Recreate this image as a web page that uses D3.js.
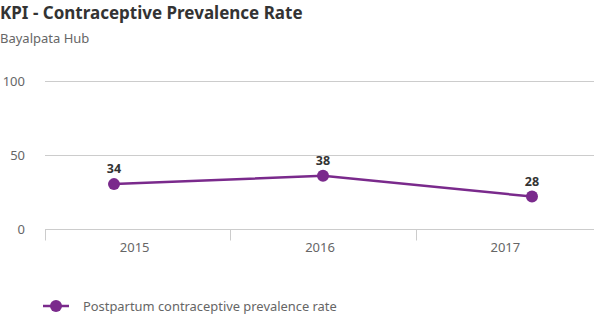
<!DOCTYPE html>
<html>
<head>
<meta charset="utf-8">
<title>KPI - Contraceptive Prevalence Rate</title>
<script src="https://cdnjs.cloudflare.com/ajax/libs/d3/7.8.5/d3.min.js"></script>
<style>
    body { margin: 0; background: #fff; font-family: "Noto Sans", "Open Sans", sans-serif; }
    #chart { width: 594px; height: 325px; }
</style>
</head>
<body>
<div id="chart"></div>
<script>
    // chart data
    const years = ["2015", "2016", "2017"];
    const rateValues = [34, 38, 28];
    const yTicks = [0, 50, 100];
    const seriesName = "Postpartum contraceptive prevalence rate";
    const title = "KPI - Contraceptive Prevalence Rate";
    const subtitle = "Bayalpata Hub";

    const width = 594, height = 325;
    const purple = "#7a2a8c";

    const svg = d3.select("#chart").append("svg")
        .attr("width", width)
        .attr("height", height);

    svg.append("text")
        .attr("x", 0).attr("y", 19)
        .attr("font-size", 17).attr("font-weight", 700)
        .attr("fill", "#333")
        .text(title);

    svg.append("text")
        .attr("x", 0).attr("y", 43)
        .attr("font-size", 13)
        .attr("fill", "#666")
        .text(subtitle);

    // axis scales
    const y = d3.scaleLinear().domain([0, 100]).range([229.5, 81.5]);
    const xBand = d3.scaleBand().domain(years).range([45, 601]);
    // series is drawn on its own plotting scale (as in the source chart)
    const ySeries = d3.scaleLinear().domain([0, 100]).range([254.5, 47.5]);
    const xSeries = d3.scalePoint().domain(years).range([114, 532]);

    // gridlines
    svg.append("g").selectAll("line")
        .data(yTicks.filter(d => d > 0))
        .join("line")
        .attr("x1", 45).attr("x2", width)
        .attr("y1", d => y(d)).attr("y2", d => y(d))
        .attr("stroke", "#ccc").attr("stroke-width", 1);

    // y labels
    svg.append("g").selectAll("text")
        .data(yTicks)
        .join("text")
        .attr("x", 25).attr("y", d => y(d) + 4.5)
        .attr("text-anchor", "end")
        .attr("font-size", 13)
        .attr("fill", "#666")
        .text(d => d);

    // x axis
    const xAxis = svg.append("g");
    xAxis.append("line")
        .attr("x1", 45).attr("x2", width)
        .attr("y1", y(0)).attr("y2", y(0))
        .attr("stroke", "#ccc");
    xAxis.selectAll("line.tick")
        .data(years)
        .join("line")
        .attr("class", "tick")
        .attr("x1", d => Math.round(xBand(d)) + 0.5)
        .attr("x2", d => Math.round(xBand(d)) + 0.5)
        .attr("y1", y(0)).attr("y2", y(0) + 11)
        .attr("stroke", "#ccc");
    xAxis.selectAll("text")
        .data(years)
        .join("text")
        .attr("x", d => xBand(d) + xBand.bandwidth() / 2 - 3)
        .attr("y", 252)
        .attr("text-anchor", "middle")
        .attr("font-size", 13)
        .attr("fill", "#666")
        .text(d => d);

    // series
    const pts = years.map((yr, i) => ({ year: yr, value: rateValues[i] }));
    const line = d3.line()
        .x(d => xSeries(d.year))
        .y(d => ySeries(d.value));

    svg.append("path")
        .datum(pts)
        .attr("d", line)
        .attr("fill", "none")
        .attr("stroke", purple)
        .attr("stroke-width", 2.5);

    svg.append("g").selectAll("circle")
        .data(pts)
        .join("circle")
        .attr("cx", d => xSeries(d.year))
        .attr("cy", d => ySeries(d.value))
        .attr("r", 6)
        .attr("fill", purple);

    svg.append("g").selectAll("text")
        .data(pts)
        .join("text")
        .attr("x", d => xSeries(d.year))
        .attr("y", d => ySeries(d.value) - 11)
        .attr("text-anchor", "middle")
        .attr("font-size", 12.5)
        .attr("font-weight", 700)
        .attr("fill", "#333")
        .text(d => d.value);

    // legend
    const legend = svg.append("g").attr("transform", "translate(43,306)");
    legend.append("line")
        .attr("x1", 0).attr("x2", 26)
        .attr("stroke", purple).attr("stroke-width", 2.5);
    legend.append("circle")
        .attr("cx", 13).attr("r", 6)
        .attr("fill", purple);
    legend.append("text")
        .attr("x", 40).attr("y", 4.5)
        .attr("font-size", 12.9)
        .attr("fill", "#666")
        .text(seriesName);
</script>
</body>
</html>
